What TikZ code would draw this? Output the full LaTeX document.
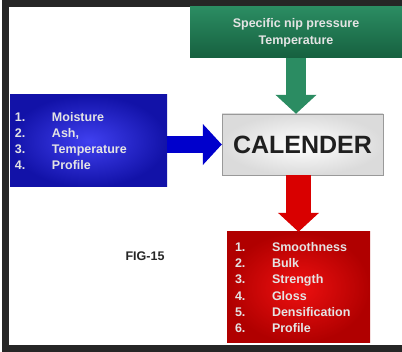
\documentclass[tikz,border=0pt]{standalone}
\usepackage{fontspec}
\setmainfont{Liberation Sans}
\usetikzlibrary{arrows.meta}

\definecolor{framegray}{HTML}{262626}
\definecolor{listtext}{HTML}{E4E4E4}
\definecolor{greentop}{HTML}{2B8C62}
\definecolor{greenbot}{HTML}{16603F}
\definecolor{bluein}{HTML}{4040F0}
\definecolor{blueout}{HTML}{1212A8}
\definecolor{redin}{HTML}{EE1010}
\definecolor{redout}{HTML}{B00000}

\newcommand{\itm}[2]{\makebox[37pt][l]{#1}#2}

\begin{document}
\begin{tikzpicture}[x=1pt, y=-1pt,
    listbox/.style={rectangle, text=listtext, font=\fontsize{12.5}{16.3}\selectfont\bfseries, align=left, inner sep=0pt, text width=#1, minimum width=#1},
    bigarrow/.style={line width=#1, {-Triangle[length=19pt,width=40pt]}}]
  \useasboundingbox (0,0) rectangle (402,352);

  % Frame
  \fill[framegray] (2,0) rectangle (9,352);
  \fill[framegray] (2,0) rectangle (402,7);
  \fill[framegray] (2,345) rectangle (402,352);

  % Nodes
  \draw (296,32.5) node(press) [rectangle, minimum width=212, minimum height=51, top color=greentop, bottom color=greenbot, text=listtext, font=\fontsize{12.5}{17}\selectfont\bfseries, align=center] {Specific nip pressure\\Temperature};
  \draw (302.5,144.5) node(cal) [rectangle, draw=black!40, minimum width=161, minimum height=61, inner color=white, outer color=black!14, text=black!88, font=\fontsize{25}{30}\selectfont\bfseries] {CALENDER};
  \draw (88.5,141) node(paper) [listbox=157, minimum height=92, inner color=bluein, outer color=blueout] {%
    \hspace*{5pt}\itm{1.}{Moisture}\\\hspace*{5pt}\itm{2.}{Ash,}\\\hspace*{5pt}\itm{3.}{Temperature}\\\hspace*{5pt}\itm{4.}{Profile}};
  \draw (298.5,287.5) node(props) [listbox=143, minimum height=111, inner color=redin, outer color=redout] {%
    \hspace*{8pt}\itm{1.}{Smoothness}\\\hspace*{8pt}\itm{2.}{Bulk}\\\hspace*{8pt}\itm{3.}{Strength}\\\hspace*{8pt}\itm{4.}{Gloss}\\\hspace*{8pt}\itm{5.}{Densification}\\\hspace*{8pt}\itm{6.}{Profile}};
  \draw (145,256) node(fig) [text=black!85, font=\fontsize{12.5}{15}\selectfont\bfseries] {FIG-15};

  % Edges
  \draw[bigarrow=20pt, draw=greentop] (press) -- (cal.north -| press);
  \draw[bigarrow=17pt, draw=blue!80!black] (paper.east |- cal.west) -- (cal.west);
  \draw[bigarrow=25pt, draw=red!85!black] (cal.south -| props) -- (props.north);

\end{tikzpicture}
\end{document}
